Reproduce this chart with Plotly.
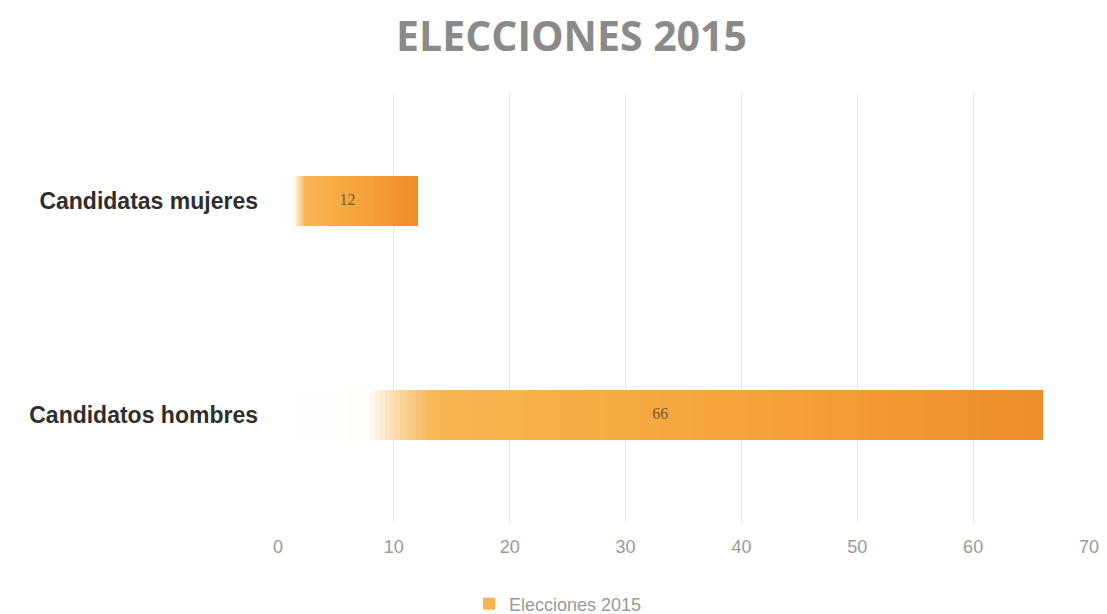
import plotly.graph_objects as go
from plotly.colors import sample_colorscale

# ---- data ----
categories = ["Candidatas mujeres", "Candidatos hombres"]
values = [12, 66]
series_name = "Elecciones 2015"
title_text = "ELECCIONES 2015"
x_ticks = [0, 10, 20, 30, 40, 50, 60, 70]

# ---- styling ----
W, H = 1099, 606
gradient = [
    [0.0, "#FFFFFF"],
    [0.12, "#FFFDF9"],
    [0.155, "#FCD9A6"],
    [0.20, "#F8B655"],
    [0.55, "#F6A63D"],
    [1.0, "#EF8D2C"],
]
N_SEG = 150

fig = go.Figure()
seg_colors = sample_colorscale(gradient, [(i + 0.5) / N_SEG for i in range(N_SEG)])
legend_seg = int(N_SEG * 0.25)
for i, col in enumerate(seg_colors):
    fig.add_trace(go.Bar(
        y=categories,
        x=[v / N_SEG for v in values],
        orientation="h",
        marker=dict(color=col, line=dict(width=0)),
        name=series_name,
        legendgroup="main",
        showlegend=(i == legend_seg),
        hoverinfo="skip",
    ))

# value labels centred in bars
fig.add_trace(go.Scatter(
    y=categories,
    x=[v / 2 for v in values],
    mode="text",
    text=[str(v) for v in values],
    textfont=dict(family="Liberation Serif", size=16, color="#6E5C3E"),
    showlegend=False,
    hoverinfo="skip",
))

fig.update_layout(
    width=W,
    height=H,
    barmode="stack",
    bargap=0.765,
    paper_bgcolor="white",
    plot_bgcolor="white",
    margin=dict(l=270, r=18, t=86, b=92),
    title=dict(
        text=title_text,
        x=563.5 / W, xanchor="center",
        y=1 - 29 / H, yanchor="middle",
        font=dict(family="Open Sans", size=41, color="#8A8A8A", weight="bold"),
    ),
    xaxis=dict(
        range=[0, 70],
        tickvals=x_ticks,
        showgrid=True,
        gridcolor="#E6E6E6",
        gridwidth=1,
        zeroline=False,
        showline=False,
        ticks="",
        automargin=False,
        ticklabelstandoff=12,
        tickfont=dict(family="Liberation Sans", size=18, color="#9A9A9A"),
        fixedrange=True,
    ),
    yaxis=dict(
        autorange="reversed",
        showgrid=False,
        zeroline=False,
        showline=False,
        ticks="",
        automargin=False,
        ticklabelstandoff=19,
        tickfont=dict(family="Liberation Sans", size=23, color="#2E2E2E", weight="bold"),
        fixedrange=True,
    ),
    legend=dict(
        orientation="h",
        xref="container", yref="container",
        x=461 / W, xanchor="left",
        y=1 - 596 / H, yanchor="middle",
        font=dict(family="Liberation Sans", size=18, color="#9A9A9A"),
        itemwidth=30,
    ),
)

fig.write_html("out.html")
